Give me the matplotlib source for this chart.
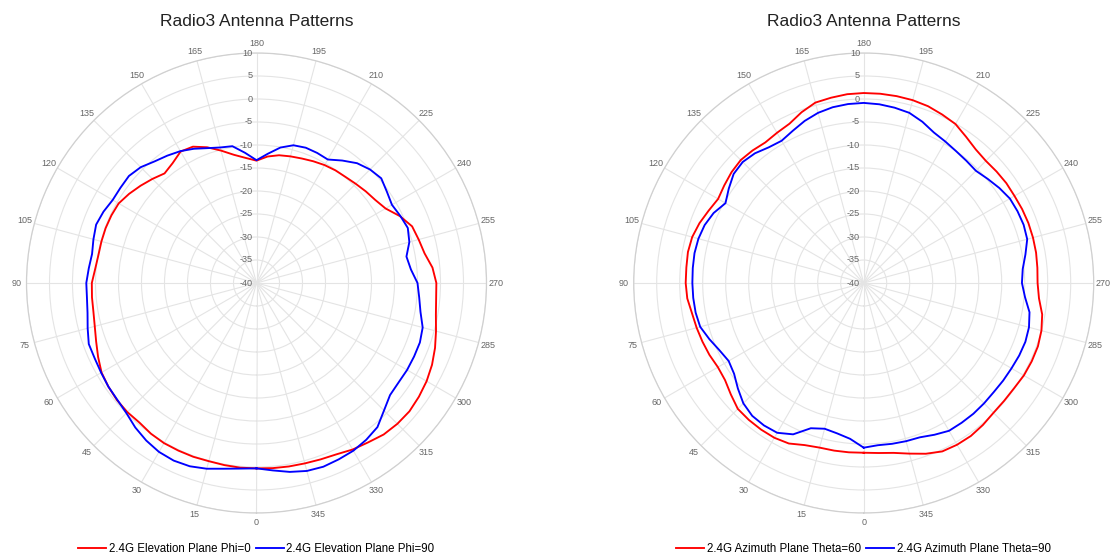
import numpy as np
import matplotlib
matplotlib.use("Agg")
import matplotlib.pyplot as plt
from matplotlib.transforms import offset_copy

plt.rcParams['font.family'] = ['Liberation Sans', 'DejaVu Sans']

# Measured gain (dB) every 5 degrees, 0..355
angles_deg = np.arange(0, 360, 5)

elev_phi0 = [
    0.3, 0.3, 0.2, 0.1, 0.2, 0.2, 0.2, 0.0, -0.4, -0.3, -0.4, -0.7,
    -1.1, -2.0, -2.9, -3.6, -4.0, -4.1, -4.2, -4.8, -5.1, -5.1, -5.1, -5.2,
    -5.4, -6.2, -7.1, -8.0, -8.9, -8.2, -7.0, -7.3, -8.6, -10.2, -11.7, -12.7,
    -13.4, -12.4, -11.8, -11.5, -11.2, -10.8, -10.4, -10.1, -9.9, -9.5, -9.0, -8.5,
    -7.6, -5.6, -4.0, -3.5, -2.9, -1.6, -0.9, -0.8, -0.4, 0.4, 1.3, 2.1,
    2.7, 3.1, 3.4, 3.3, 3.0, 2.3, 1.8, 1.1, 0.8, 0.6, 0.5, 0.4,
]
elev_phi90 = [
    0.3, 0.5, 1.0, 1.8, 2.4, 2.6, 2.4, 1.8, 1.0, 0.0, -0.5, -0.7,
    -1.0, -1.2, -1.2, -2.0, -2.7, -3.0, -3.0, -3.4, -3.7, -3.3, -2.9, -3.3,
    -3.9, -3.9, -3.8, -4.4, -5.5, -6.2, -6.9, -7.8, -8.8, -9.5, -9.8, -11.6,
    -13.3, -11.8, -10.1, -9.0, -8.7, -8.8, -9.0, -7.5, -6.0, -5.1, -4.6, -5.4,
    -6.0, -5.5, -5.0, -5.6, -6.9, -6.3, -5.0, -4.5, -3.8, -2.6, -2.2, -2.2,
    -2.2, -2.3, -2.1, -0.8, 0.9, 1.6, 2.1, 2.3, 2.5, 2.3, 1.7, 0.9,
]
azim_theta60 = [
    -3.1, -3.05, -3.0, -2.95, -2.5, -1.5, -1.15, -1.1, -1.15, -1.3, -2.3, -3.2,
    -3.4, -3.0, -2.7, -2.4, -2.1, -1.5, -1.3, -1.3, -1.2, -1.4, -2.0, -2.8,
    -3.45, -3.0, -2.5, -2.2, -2.4, -2.7, -2.3, -1.8, -0.5, 0.6, 0.9, 1.2,
    1.3, 1.3, 1.25, 1.15, 0.9, 0.4, -0.1, -1.2, -2.1, -2.45, -2.3, -2.15,
    -2.15, -2.0, -1.9, -1.9, -1.95, -2.1, -2.2, -1.75, -0.6, 0.0, 0.3, 0.3,
    0.2, -0.1, -0.15, -0.1, 0.3, 0.6, 0.6, 0.4, -0.5, -1.6, -2.5, -2.9,
]
azim_theta90 = [
    -4.2, -6.0, -6.8, -7.2, -6.4, -3.7, -2.4, -2.2, -2.3, -3.0, -4.3, -5.6,
    -6.1, -5.4, -4.3, -3.2, -2.9, -2.8, -2.75, -2.7, -2.65, -2.8, -3.2, -4.0,
    -5.3, -4.2, -3.1, -2.8, -3.2, -4.0, -4.3, -3.5, -2.5, -1.7, -1.2, -0.95,
    -0.85, -1.0, -1.3, -1.7, -2.7, -3.9, -4.5, -5.0, -5.3, -5.5, -4.8, -4.0,
    -3.3, -3.1, -3.0, -3.2, -4.3, -5.3, -5.6, -4.8, -3.4, -2.8, -2.6, -2.7,
    -2.9, -3.0, -3.1, -3.0, -2.9, -2.9, -2.9, -3.6, -4.3, -4.4, -4.5, -4.6,
]

tick_angles = list(range(0, 360, 15))
tick_labels = [str(a) for a in tick_angles]
r_ticks = list(range(-40, 11, 5))

title_text = "Radio3 Antenna Patterns"
left_series = [("2.4G Elevation Plane Phi=0", elev_phi0),
               ("2.4G Elevation Plane Phi=90", elev_phi90)]
right_series = [("2.4G Azimuth Plane Theta=60", azim_theta60),
                ("2.4G Azimuth Plane Theta=90", azim_theta90)]

W, H = 1115, 557
fig = plt.figure(figsize=(W / 100, H / 100), dpi=100)

RADIUS = 230.0
CY = 283.0
colors = ["#ff0000", "#0000ff"]
label_color = "#666666"


def closed(values):
    th = np.deg2rad(np.append(angles_deg, 360))
    r = np.append(values, values[0])
    return th, r


def draw_panel(cx, series):
    ax = fig.add_axes([(cx - RADIUS) / W, (H - CY - RADIUS) / H,
                       2 * RADIUS / W, 2 * RADIUS / H], projection="polar")
    ax.set_theta_zero_location("S")
    ax.set_theta_direction(-1)
    ax.set_ylim(-40, 10)
    ax.set_yticks(r_ticks)
    ax.set_yticklabels([])
    ax.set_xticks(np.deg2rad(tick_angles))
    ax.set_xticklabels(tick_labels, fontsize=6.5, color=label_color)
    ax.tick_params(axis="x", pad=-3.5)
    ax.grid(True, color="#e4e4e4", linewidth=0.8)
    ax.spines["polar"].set_color("#d0d0d0")
    ax.spines["polar"].set_linewidth(0.9)

    # radial scale labels along the 180 degree spoke
    trans = offset_copy(ax.transData, fig=fig, x=-3.5, y=0, units="dots")
    for v in r_ticks:
        ax.text(np.pi, v, str(v), transform=trans, ha="right", va="center",
                fontsize=6.6, color=label_color)

    handles = []
    for (name, vals), c in zip(series, colors):
        th, r = closed(vals)
        ln, = ax.plot(th, r, color=c, linewidth=1.35, label=name)
        handles.append(ln)

    fig.text(cx / W, 1 - 22 / H, title_text, ha="center", va="center",
             fontsize=12.5, color="#222222")
    ax.legend(handles=handles, loc="center", ncol=2, frameon=False,
              bbox_to_anchor=(cx / W, 1 - 549 / H),
              bbox_transform=fig.transFigure, fontsize=8.3,
              handlelength=2.4, handletextpad=0.25, columnspacing=0.45,
              borderpad=0, borderaxespad=0)
    return ax


draw_panel(256.5, left_series)
draw_panel(863.7, right_series)

fig.savefig("out.png", dpi=100, facecolor="white")
